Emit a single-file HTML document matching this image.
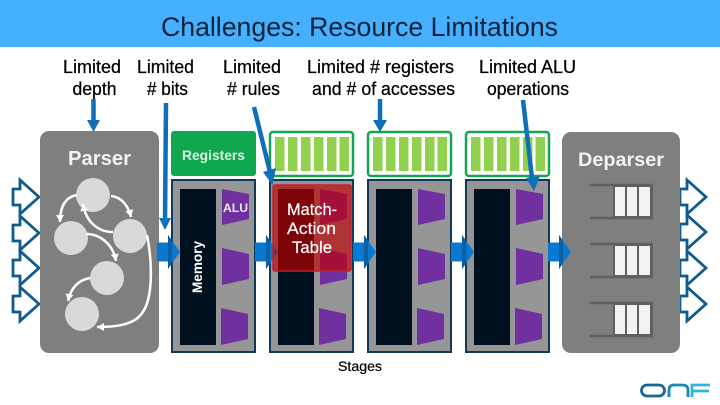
<!DOCTYPE html>
<html>
<head>
<meta charset="utf-8">
<style>
html,body{margin:0;padding:0;background:#fff;width:720px;height:405px;overflow:hidden}
svg{display:block}
text{font-family:"Liberation Sans",sans-serif}
</style>
</head>
<body>
<svg xmlns="http://www.w3.org/2000/svg" xmlns:xlink="http://www.w3.org/1999/xlink" width="720" height="405" viewBox="0 0 720 405">
<defs>
<marker id="w" markerUnits="userSpaceOnUse" markerWidth="10" markerHeight="10" refX="7" refY="4" orient="auto"><path d="M0,0L7,4L0,8Z" fill="#fff"/></marker>
<g id="stage">
<rect x="1" y="1" width="83" height="172" fill="#969696" stroke="#0f3a5c" stroke-width="2"/>
<rect x="9" y="10" width="36" height="156" fill="#00101e"/>
<path d="M51,10L78,15V40L51,46Z" fill="#7030a0"/>
<path d="M51,69L78,75V100L51,106Z" fill="#7030a0"/>
<path d="M50,129L77,135V160L50,166Z" fill="#7030a0"/>
</g>
<g id="regs">
<rect x="0" y="0" width="83" height="44" rx="3" fill="#fff" stroke="#14a550" stroke-width="2.500"/>
<g fill="#92d050">
<rect x="5" y="5" width="9.500" height="34"/><rect x="18" y="5" width="9.500" height="34"/><rect x="31" y="5" width="9.500" height="34"/><rect x="44" y="5" width="9.500" height="34"/><rect x="57" y="5" width="9.500" height="34"/><rect x="69.500" y="5" width="9.500" height="34"/>
</g>
</g>
<g id="blk">
<path d="M0,-9.500H11V-17L23,0L11,17V9.500H0Z" fill="#0878d0"/>
<path d="M11,-17L15,-11.500V11.500L11,17Z" fill="#0d5fa0"/>
</g>
<path id="oa" d="M0,-8H7V-17L26,0L7,17V8H0Z" fill="#fff" stroke="#0f5a8f" stroke-width="2.800"/>
<g id="q">
<path d="M590,1H653M590,34H653" stroke="#606060" stroke-width="2.500" fill="none"/>
<rect x="613" y="1" width="40" height="33" fill="#606060"/>
<rect x="615" y="3" width="10" height="29" fill="#f2f2f2"/><rect x="627" y="3" width="10" height="29" fill="#f2f2f2"/><rect x="639" y="3" width="11" height="29" fill="#f2f2f2"/>
</g>
</defs>

<rect x="0" y="0" width="720" height="47" fill="#45b0ff"/>
<text x="161" y="36" font-size="26.500" fill="#0b2236" textLength="397" lengthAdjust="spacingAndGlyphs">Challenges: Resource Limitations</text>

<g font-size="18" fill="#000" stroke="#000" stroke-width=".25" lengthAdjust="spacingAndGlyphs">
<text x="63" y="73" textLength="58" lengthAdjust="spacingAndGlyphs">Limited</text><text x="72.500" y="95" textLength="44" lengthAdjust="spacingAndGlyphs">depth</text>
<text x="137" y="73" textLength="57" lengthAdjust="spacingAndGlyphs">Limited</text><text x="147" y="95" textLength="41" lengthAdjust="spacingAndGlyphs"># bits</text>
<text x="223" y="73" textLength="58" lengthAdjust="spacingAndGlyphs">Limited</text><text x="227" y="95" textLength="53" lengthAdjust="spacingAndGlyphs"># rules</text>
<text x="307" y="73" textLength="147" lengthAdjust="spacingAndGlyphs">Limited # registers</text><text x="312" y="95" textLength="143" lengthAdjust="spacingAndGlyphs">and # of accesses</text>
<text x="479" y="73" textLength="97" lengthAdjust="spacingAndGlyphs">Limited ALU</text><text x="487" y="95" textLength="82" lengthAdjust="spacingAndGlyphs">operations</text>
</g>

<!-- input / output arrows -->
<use xlink:href="#oa" x="13" y="197"/><use xlink:href="#oa" x="13" y="304"/><use xlink:href="#oa" x="13" y="268"/><use xlink:href="#oa" x="13" y="233"/>
<use xlink:href="#oa" x="680" y="197"/><use xlink:href="#oa" x="680" y="304"/><use xlink:href="#oa" x="680" y="268"/><use xlink:href="#oa" x="680" y="232"/>

<!-- parser -->
<rect x="40" y="131" width="119" height="222" rx="9" fill="#7f7f7f"/>
<text x="68" y="165" font-size="20" font-weight="bold" fill="#f2f2f2" textLength="63" lengthAdjust="spacingAndGlyphs">Parser</text>
<g fill="#d9d9d9">
<circle cx="93" cy="195" r="17"/><circle cx="71" cy="238" r="17"/><circle cx="130" cy="236" r="17"/><circle cx="107" cy="278" r="17"/><circle cx="82" cy="314" r="17"/>
</g>
<g fill="none" stroke="#fff" stroke-width="2.500" marker-end="url(#w)">
<path d="M77,195C65,197 60,207 60,222"/>
<path d="M111,196C121,197 128,205 131,217"/>
<path d="M113,232C98,232 86,222 83,204"/>
<path d="M86,234C100,234 113,244 116,261"/>
<path d="M90,278C78,280 71,288 68,301"/>
<path d="M147,235C152,260 152,285 148,300C143,320 130,327 97,327"/>
</g>

<!-- registers -->
<rect x="171" y="131" width="85" height="45" rx="3" fill="#0fa84f"/>
<text x="182" y="160" font-size="14" font-weight="bold" fill="#d8efe0" textLength="63" lengthAdjust="spacingAndGlyphs">Registers</text>
<use xlink:href="#regs" x="270" y="132"/><use xlink:href="#regs" x="368" y="132"/><use xlink:href="#regs" x="466" y="132"/>

<!-- stages -->
<use xlink:href="#stage" x="171" y="179"/><use xlink:href="#stage" x="269" y="179"/><use xlink:href="#stage" x="367" y="179"/><use xlink:href="#stage" x="465" y="179"/>
<text x="223" y="212" font-size="12" font-weight="bold" fill="#e8e8e8" textLength="25" lengthAdjust="spacingAndGlyphs">ALU</text>
<text transform="translate(202,293) rotate(-90)" font-size="14" font-weight="bold" fill="#fff" textLength="52" lengthAdjust="spacingAndGlyphs">Memory</text>

<use xlink:href="#blk" x="157" y="252"/><use xlink:href="#blk" x="255" y="252"/><use xlink:href="#blk" x="353" y="252"/><use xlink:href="#blk" x="451" y="252"/>

<!-- red table -->
<rect x="273" y="185" width="78" height="86" rx="2" fill="#c00000" fill-opacity=".65" stroke="#c02030" stroke-width="1.500"/>
<g font-size="17" fill="#fff" stroke="#fff" stroke-width=".2">
<text x="287" y="215" textLength="50" lengthAdjust="spacingAndGlyphs">Match-</text><text x="287" y="234" textLength="49" lengthAdjust="spacingAndGlyphs">Action</text><text x="292" y="253" textLength="40" lengthAdjust="spacingAndGlyphs">Table</text>
</g>

<!-- deparser -->
<rect x="562" y="132" width="118" height="221" rx="9" fill="#7f7f7f"/>
<text x="578" y="166" font-size="19" font-weight="bold" fill="#f2f2f2" textLength="86" lengthAdjust="spacingAndGlyphs">Deparser</text>
<use xlink:href="#q" x="0" y="184"/><use xlink:href="#q" x="0" y="243"/><use xlink:href="#q" x="0" y="302"/>
<use xlink:href="#blk" x="548" y="252"/>

<!-- callout arrows -->
<g fill="none" stroke="#0f6fb8" stroke-width="4.500">
<path d="M93.500,99V122"/><path d="M166,103L165,220"/><path d="M254,107L270,172"/><path d="M380,99V122"/><path d="M523,100L532,178"/>
</g>
<g fill="#0f6fb8">
<path d="M87,120H100L93.500,132Z"/><path d="M159,218H171L165,230Z"/><path d="M263,172L276,168L272.500,185Z"/><path d="M373,120H387L380,132Z"/><path d="M526,178L540,176L534,191Z"/>
</g>

<text x="338" y="371" font-size="14" fill="#000" stroke="#000" stroke-width=".2" textLength="44" lengthAdjust="spacingAndGlyphs">Stages</text>

<!-- ONF logo -->
<g fill="none" stroke-width="2.800">
<rect x="641.500" y="385" width="23" height="11" rx="5.500" stroke="#17688f"/>
<path d="M669,397V390Q669,385 674,385H682Q688,385 688,390V397" stroke="#1d86b5"/>
<path d="M692,397V385H710M692,391H709" stroke="#32b1e0"/>
</g>
</svg>
</body>
</html>
